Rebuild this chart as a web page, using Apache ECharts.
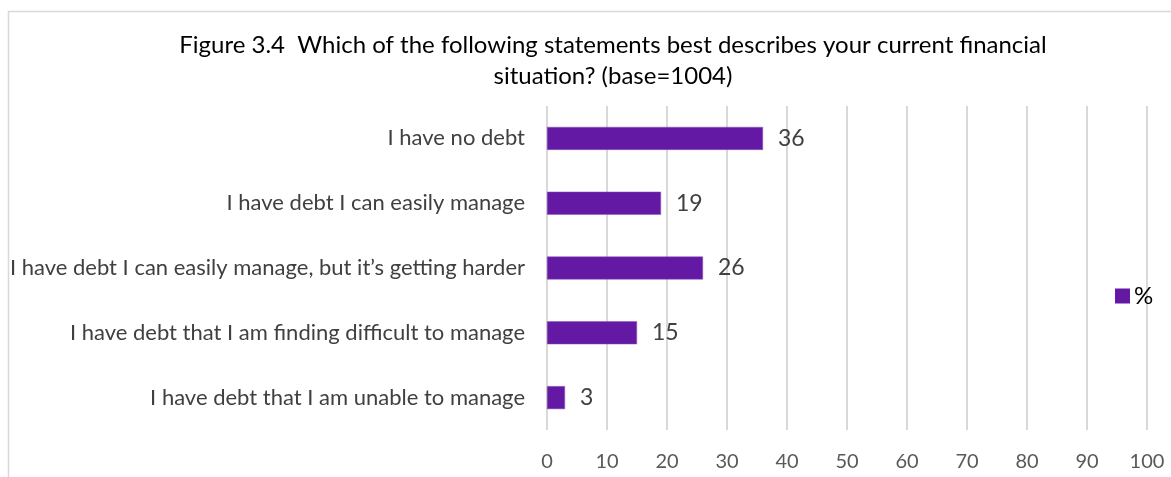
<!DOCTYPE html>
<html>
<head>
<meta charset="utf-8">
<style>
  html, body { margin: 0; padding: 0; background: #ffffff; }
  #chart { width: 1171px; height: 477px; }
</style>
<script src="https://cdn.jsdelivr.net/npm/echarts@6/dist/echarts.min.js"></script>
</head>
<body>
<div id="chart"></div>
<script>
// Survey responses, top to bottom as shown
const categories = [
  "I have no debt",
  "I have debt I can easily manage",
  "I have debt I can easily manage, but it\u2019s getting harder",
  "I have debt that I am finding difficult to manage",
  "I have debt that I am unable to manage"
];
const percentValues = [36, 19, 26, 15, 3];
const seriesName = "%";
const titleLines = [
  "Figure 3.4  Which of the following statements best describes your current financial",
  "situation? (base=1004)"
];

const FONT = "Lato, 'Open Sans', sans-serif";
const chart = echarts.init(document.getElementById("chart"), null, { renderer: "canvas" });

chart.setOption({
  backgroundColor: "#ffffff",
  animation: false,
  graphic: [{
    type: "rect",
    shape: { x: 8.5, y: 11.5, width: 1200, height: 500 },
    style: { fill: "none", stroke: "#d9d9d9", lineWidth: 1.5 },
    silent: true
  }],
  title: {
    text: titleLines.join("\n"),
    left: 608,
    top: 25,
    textAlign: "center",
    textStyle: {
      fontFamily: FONT,
      fontSize: 24,
      fontWeight: "normal",
      color: "#000000",
      lineHeight: 31
    }
  },
  legend: {
    data: [seriesName],
    orient: "vertical",
    left: 1110,
    top: 279,
    itemWidth: 15,
    itemHeight: 15,
    itemGap: 6,
    icon: "rect",
    itemStyle: { borderWidth: 0 },
    textStyle: { fontFamily: FONT, fontSize: 24, color: "#000000", padding: [0, 0, 0, -1] }
  },
  grid: {
    left: 547,
    right: 24,
    top: 106,
    bottom: 47,
    containLabel: false
  },
  xAxis: {
    type: "value",
    min: 0,
    max: 100,
    interval: 10,
    axisLine: { show: false },
    axisTick: { show: false },
    splitLine: { show: true, lineStyle: { color: "#d9d9d9", width: 2 } },
    axisLabel: {
      fontFamily: FONT,
      fontSize: 20,
      color: "#595959",
      margin: 22
    }
  },
  yAxis: {
    type: "category",
    data: categories,
    inverse: true,
    axisLine: { show: false },
    axisTick: { show: false },
    splitLine: { show: false },
    axisLabel: {
      fontFamily: FONT,
      fontSize: 22,
      color: "#404040",
      margin: 22
    }
  },
  series: [{
    name: seriesName,
    type: "bar",
    data: percentValues,
    barWidth: 23,
    itemStyle: { color: "#6419A5", borderColor: "#8a55bd", borderWidth: 0.5 },
    label: {
      show: true,
      position: "right",
      distance: 15,
      fontFamily: FONT,
      fontSize: 23,
      color: "#404040",
      padding: [4, 0, 0, 0]
    }
  }]
});
</script>
</body>
</html>
